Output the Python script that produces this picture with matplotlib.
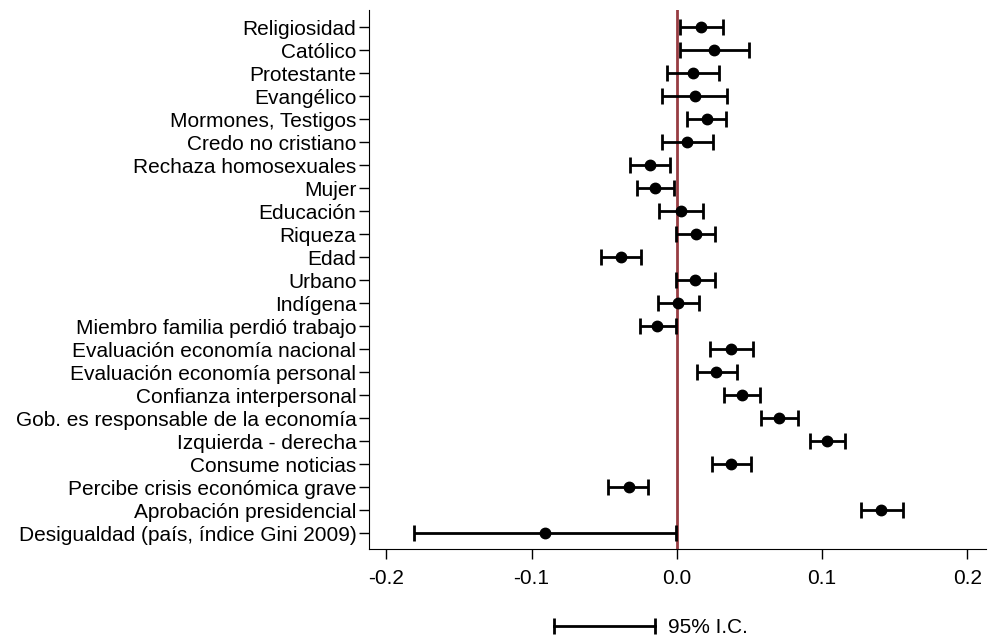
import matplotlib
matplotlib.use("Agg")
import matplotlib.pyplot as plt
from matplotlib.lines import Line2D
from matplotlib.legend_handler import HandlerBase

plt.rcParams['font.family'] = ['Liberation Sans', 'DejaVu Sans']

# variables, top to bottom
labels = [
    "Religiosidad", "Católico", "Protestante", "Evangélico",
    "Mormones, Testigos", "Credo no cristiano", "Rechaza homosexuales",
    "Mujer", "Educación", "Riqueza", "Edad", "Urbano", "Indígena",
    "Miembro familia perdió trabajo", "Evaluación economía nacional",
    "Evaluación economía personal", "Confianza interpersonal",
    "Gob. es responsable de la economía", "Izquierda - derecha",
    "Consume noticias", "Percibe crisis económica grave",
    "Aprobación presidencial", "Desigualdad (país, índice Gini 2009)",
]
coef = [0.017, 0.0255, 0.011, 0.0124, 0.0209, 0.0069, -0.0184,
        -0.0148, 0.0027, 0.0135, -0.0385, 0.0126, 0.0011,
        -0.0135, 0.0376, 0.0269, 0.0451,
        0.0703, 0.1036, 0.0376, -0.033,
        0.1409, -0.0909]
lower = [0.0025, 0.002, -0.007, -0.010, 0.0074, -0.0099, -0.0319,
         -0.0272, -0.0121, -0.0003, -0.0519, -0.0008, -0.0129,
         -0.025, 0.0231, 0.014, 0.0324,
         0.0582, 0.0915, 0.0242, -0.0473,
         0.1272, -0.181]
upper = [0.032, 0.0495, 0.029, 0.0343, 0.034, 0.0247, -0.0047,
         -0.0019, 0.0184, 0.0261, -0.0245, 0.0261, 0.0154,
         -0.0008, 0.0525, 0.0412, 0.0574,
         0.0832, 0.1159, 0.0511, -0.0198,
         0.1558, -0.0008]


class CapLineHandler(HandlerBase):
    # legend key: horizontal line with caps at both ends
    def create_artists(self, legend, orig_handle, xdescent, ydescent,
                       width, height, fontsize, trans):
        y = height / 2 - ydescent
        xs = [-xdescent, width - xdescent]
        line = Line2D(xs, [y, y], color="black", lw=2)
        caps = Line2D(xs, [y, y], ls="none", marker="|", ms=12, mew=2,
                      color="black")
        line.set_transform(trans)
        caps.set_transform(trans)
        return [line, caps]


fig = plt.figure(figsize=(9.89, 6.40), dpi=100)
ax = fig.add_axes([0.373, 0.142, 0.624, 0.842])

ypos = list(range(len(labels)))
err_lo = [c - l for c, l in zip(coef, lower)]
err_hi = [u - c for c, u in zip(coef, upper)]

ax.axvline(0, color="#973c42", lw=2, zorder=1)
ax.errorbar(coef, ypos, xerr=[err_lo, err_hi], fmt="o", color="black",
            ms=7.5, elinewidth=2, capsize=6, capthick=2, zorder=3)

ax.set_yticks(ypos)
ax.set_yticklabels(labels)
ax.set_ylim(len(labels) - 0.3, -0.74)
ax.set_xlim(-0.212, 0.213)
ax.set_xticks([-0.2, -0.1, 0.0, 0.1, 0.2])
ax.set_xticklabels(["-0.2", "-0.1", "0.0", "0.1", "0.2"])
ax.tick_params(axis="both", labelsize=15, length=7, width=1, direction="out")
ax.tick_params(axis="x", pad=7)
ax.tick_params(axis="y", pad=2)
ax.spines["top"].set_visible(False)
ax.spines["right"].set_visible(False)

fig.legend([object()], ["95% I.C."], handler_map={object: CapLineHandler()},
           loc="center", bbox_to_anchor=(0.658, 0.019), frameon=False,
           fontsize=15, handlelength=4.85, handletextpad=0.6)

fig.savefig("out.png", dpi=100)
